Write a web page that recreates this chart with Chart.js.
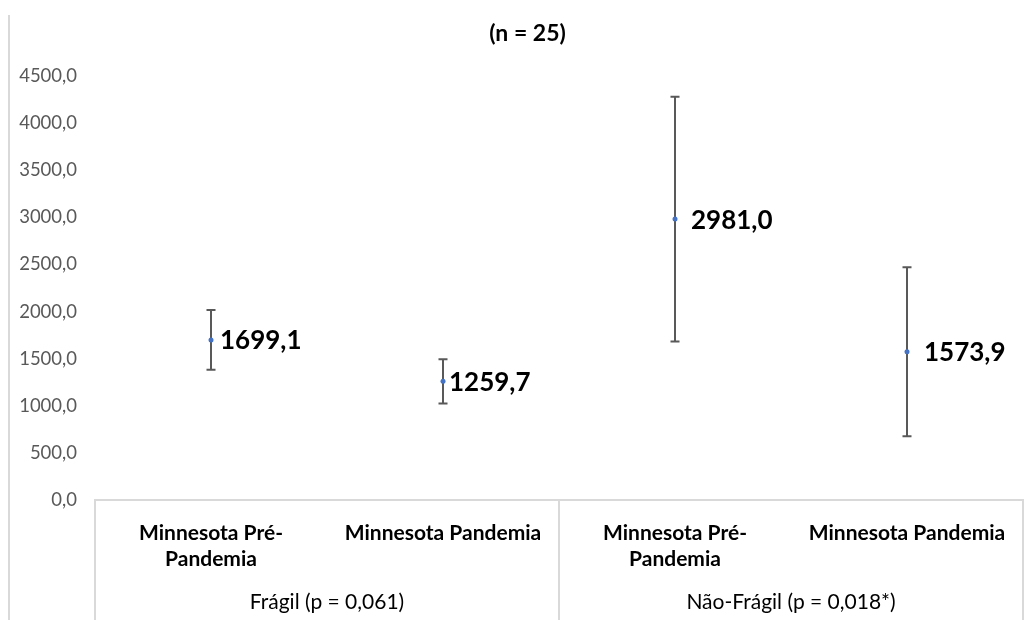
<!DOCTYPE html>
<html>
<head>
<meta charset="utf-8">
<script src="https://cdn.jsdelivr.net/npm/chart.js@4.4.1/dist/chart.umd.min.js"></script>
<style>
  html, body { margin: 0; padding: 0; background: #fff; }
  #wrap { position: relative; width: 1033px; height: 620px; }
  #frame { position: absolute; left: 8px; top: 15px; width: 2px; height: 605px; background: #d9d9d9; }
</style>
</head>
<body>
<div id="wrap">
  <div id="frame"></div>
  <canvas id="chart"></canvas>
</div>
<script>
  // data
  const categories = [
    ["Minnesota Pré-", "Pandemia"],
    "Minnesota Pandemia",
    ["Minnesota Pré-", "Pandemia"],
    "Minnesota Pandemia",
  ];
  const groups = ["Frágil (p = 0,061)", "Não-Frágil (p = 0,018*)"];
  const means = [1699.1, 1259.7, 2981.0, 1573.9];
  const errors = [318, 235, 1300, 896];
  const yTicks = [0, 500, 1000, 1500, 2000, 2500, 3000, 3500, 4000, 4500];
  const titleText = "(n = 25)";

  const labelOffsets = [9, 6, 16, 17];
  const fmt = (v) => v.toFixed(1).replace(".", ",");

  // title, centred a little right of the canvas middle like the original
  const titlePlugin = {
    id: "nTitle",
    afterDraw(chart) {
      const ctx = chart.ctx;
      ctx.save();
      ctx.font = "bold 23px Lato";
      ctx.fillStyle = "#000";
      ctx.textAlign = "center";
      ctx.textBaseline = "middle";
      ctx.fillText(titleText, chart.width / 2 + 11, 34);
      ctx.restore();
    },
  };

  // error bars under the points, value labels over them
  const errorBars = {
    id: "errorBars",
    beforeDatasetsDraw(chart) {
      const ctx = chart.ctx;
      const y = chart.scales.y;
      const meta = chart.getDatasetMeta(0);
      ctx.save();
      ctx.strokeStyle = "#595959";
      ctx.lineWidth = 2;
      meta.data.forEach((pt, i) => {
        const top = y.getPixelForValue(means[i] + errors[i]);
        const bot = y.getPixelForValue(means[i] - errors[i]);
        ctx.beginPath();
        ctx.moveTo(pt.x, top);
        ctx.lineTo(pt.x, bot);
        ctx.moveTo(pt.x - 4.5, top);
        ctx.lineTo(pt.x + 4.5, top);
        ctx.moveTo(pt.x - 4.5, bot);
        ctx.lineTo(pt.x + 4.5, bot);
        ctx.stroke();
      });
      ctx.restore();
    },
    afterDatasetsDraw(chart) {
      const ctx = chart.ctx;
      const meta = chart.getDatasetMeta(0);
      ctx.save();
      ctx.font = "bold 26px Lato";
      ctx.fillStyle = "#000";
      ctx.textAlign = "left";
      ctx.textBaseline = "middle";
      meta.data.forEach((pt, i) => {
        ctx.fillText(fmt(means[i]), pt.x + labelOffsets[i], pt.y + 1);
      });
      ctx.restore();
    },
  };

  // box lines round the category labels
  const groupLines = {
    id: "groupLines",
    afterDraw(chart) {
      const ctx = chart.ctx;
      const x = chart.scales.x;
      const per = categories.length / groups.length;
      const xs = [x.left];
      for (let g = 1; g < groups.length; g++) {
        xs.push((x.getPixelForTick(g * per - 1) + x.getPixelForTick(g * per)) / 2);
      }
      xs.push(x.right);
      ctx.save();
      ctx.strokeStyle = "#d9d9d9";
      ctx.lineWidth = 2;
      xs.forEach((px) => {
        ctx.beginPath();
        ctx.moveTo(px, chart.chartArea.bottom);
        ctx.lineTo(px, chart.height);
        ctx.stroke();
      });
      ctx.restore();
    },
  };

  new Chart(document.getElementById("chart"), {
    type: "line",
    data: {
      labels: categories,
      datasets: [
        {
          data: means,
          showLine: false,
          pointRadius: 2.5,
          pointHoverRadius: 2.5,
          pointBackgroundColor: "#4472c4",
          pointBorderColor: "#4472c4",
          pointBorderWidth: 0,
        },
      ],
    },
    options: {
      responsive: true,
      maintainAspectRatio: false,
      animation: false,
      layout: { padding: { left: 0, right: 10, top: 76, bottom: 0 } },
      plugins: {
        legend: { display: false },
        tooltip: { enabled: false },
        title: { display: false },
      },
      scales: {
        y: {
          min: 0,
          max: 4500,
          afterBuildTicks: (s) => { s.ticks = yTicks.map((v) => ({ value: v })); },
          afterFit: (s) => { s.width = 95; },
          grid: { display: false, drawTicks: false },
          border: { display: false },
          ticks: {
            padding: 18,
            color: "#595959",
            font: { family: "Lato", size: 18.5 },
            callback: (v) => fmt(v),
          },
        },
        x: {
          offset: true,
          weight: 0,
          afterFit: (s) => { s.height = 85; },
          grid: { display: false, drawTicks: false },
          border: { display: true, color: "#d9d9d9", width: 2 },
          ticks: {
            autoSkip: false,
            maxRotation: 0,
            padding: 21,
            color: "#000",
            font: { family: "Lato", size: 21, weight: "bold", lineHeight: 1.2 },
          },
        },
        x2: {
          type: "category",
          labels: groups,
          position: "bottom",
          offset: true,
          weight: 1,
          afterFit: (s) => { s.height = 35; },
          grid: { display: false, drawTicks: false },
          border: { display: false },
          ticks: {
            autoSkip: false,
            maxRotation: 0,
            padding: 5,
            color: "#000",
            font: { family: "Lato", size: 21 },
          },
        },
      },
    },
    plugins: [errorBars, groupLines, titlePlugin],
  });
</script>
</body>
</html>
